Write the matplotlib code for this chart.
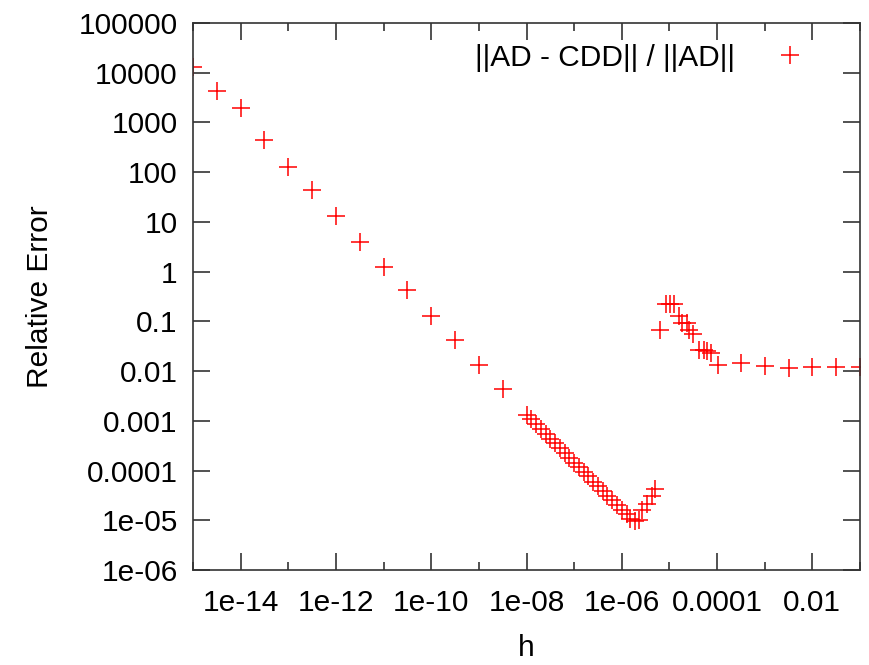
import matplotlib
matplotlib.use("Agg")
import matplotlib.pyplot as plt
from matplotlib.ticker import FixedLocator, NullFormatter

plt.rcParams['font.family'] = ['Liberation Sans', 'DejaVu Sans']

# coarse sweep, half decades
h_coarse = [1.0e-15, 3.16e-15, 1.0e-14, 3.16e-14, 1.0e-13, 3.16e-13, 1.0e-12,
            3.16e-12, 1.0e-11, 3.16e-11, 1.0e-10, 3.16e-10, 1.0e-09, 3.16e-09]
err_coarse = [1.3e4, 4270, 1940, 434, 130, 43.3, 13.0,
              4.02, 1.26, 0.428, 0.130, 0.0422, 0.0132, 0.00427]

# fine sweep around the minimum
h_fine = [1.00e-8, 1.26e-8, 1.58e-8, 2.00e-8, 2.51e-8, 3.16e-8, 3.98e-8, 5.01e-8,
          6.31e-8, 7.94e-8, 1.00e-7, 1.26e-7, 1.58e-7, 2.00e-7, 2.51e-7, 3.16e-7,
          3.98e-7, 5.01e-7, 6.31e-7, 7.94e-7, 1.00e-6, 1.26e-6, 1.51e-6, 1.86e-6,
          2.29e-6, 2.63e-6, 3.39e-6, 4.27e-6, 5.01e-6]
err_fine = [1.32e-3, 1.07e-3, 8.5e-4, 6.9e-4, 5.5e-4, 4.4e-4, 3.55e-4, 2.8e-4,
            2.3e-4, 1.82e-4, 1.45e-4, 1.17e-4, 9.3e-5, 7.6e-5, 6.0e-5, 4.8e-5,
            3.9e-5, 3.1e-5, 2.5e-5, 2.0e-5, 1.62e-5, 1.32e-5, 1.05e-5, 9.6e-6,
            1.0e-5, 1.58e-5, 2.14e-5, 3.1e-5, 4.2e-5]

# jump region
h_bump = [6.41e-6, 8.57e-6, 1.04e-5, 1.22e-5, 1.56e-5, 1.86e-5, 2.33e-5,
          2.61e-5, 3.13e-5, 4.10e-5, 5.22e-5, 6.15e-5, 7.59e-5, 1.05e-4]
err_bump = [0.0679, 0.226, 0.226, 0.226, 0.130, 0.094, 0.094,
            0.068, 0.0556, 0.0269, 0.0269, 0.0256, 0.0234, 0.0134]

# large h tail
h_tail = [3.16e-4, 1.0e-3, 3.16e-3, 1.0e-2, 3.16e-2, 1.0e-1]
err_tail = [0.0143, 0.0128, 0.0113, 0.0122, 0.0122, 0.0122]

xticks = [1e-14, 1e-12, 1e-10, 1e-8, 1e-6, 1e-4, 1e-2]
xticklabels = ["1e-14", "1e-12", "1e-10", "1e-08", "1e-06", "0.0001", "0.01"]
xminor = [1e-15, 1e-13, 1e-11, 1e-9, 1e-7, 1e-5, 1e-3, 1e-1]
yticks = [1e5, 1e4, 1e3, 1e2, 1e1, 1, 1e-1, 1e-2, 1e-3, 1e-4, 1e-5, 1e-6]
yticklabels = ["100000", "10000", "1000", "100", "10", "1", "0.1", "0.01",
               "0.001", "0.0001", "1e-05", "1e-06"]

h = h_coarse + h_fine + h_bump + h_tail
err = err_coarse + err_fine + err_bump + err_tail

fig = plt.figure(figsize=(8.69, 6.65), dpi=100)
ax = fig.add_axes([193 / 869, 1 - 570 / 665, 667 / 869, 547 / 665])

ax.plot(h, err, linestyle="none", marker="+", color="#ff0000",
        markersize=12.5, markeredgewidth=1.1, clip_on=True,
        label="||AD - CDD|| / ||AD||")

ax.set_xscale("log")
ax.set_yscale("log")
ax.set_xlim(1e-15, 1e-1)
ax.set_ylim(1e-6, 1e5)

ax.xaxis.set_major_locator(FixedLocator(xticks))
ax.set_xticklabels(xticklabels)
ax.xaxis.set_minor_locator(FixedLocator(xminor))
ax.xaxis.set_minor_formatter(NullFormatter())
ax.yaxis.set_major_locator(FixedLocator(yticks))
ax.set_yticklabels(yticklabels)
ax.yaxis.set_minor_locator(FixedLocator([]))

fs = 21.5
ax.tick_params(which="both", direction="in", top=True, right=True,
               labelsize=fs, color="#222222", width=1.1)
ax.tick_params(which="major", length=12.5)
ax.tick_params(which="minor", length=6)
ax.tick_params(axis="x", pad=14)
ax.tick_params(axis="y", pad=11)
for s in ax.spines.values():
    s.set_linewidth(1.2)
    s.set_color("#333333")

ax.set_xlabel("h", fontsize=fs, labelpad=12)
ax.set_ylabel("Relative Error", fontsize=fs, labelpad=18)

ax.legend(loc="upper right", bbox_to_anchor=(0.9355, 0.962), frameon=False,
          markerfirst=False, fontsize=fs, handlelength=1.8, handletextpad=0.95,
          borderpad=0, borderaxespad=0)

fig.savefig("out.png", dpi=100)
